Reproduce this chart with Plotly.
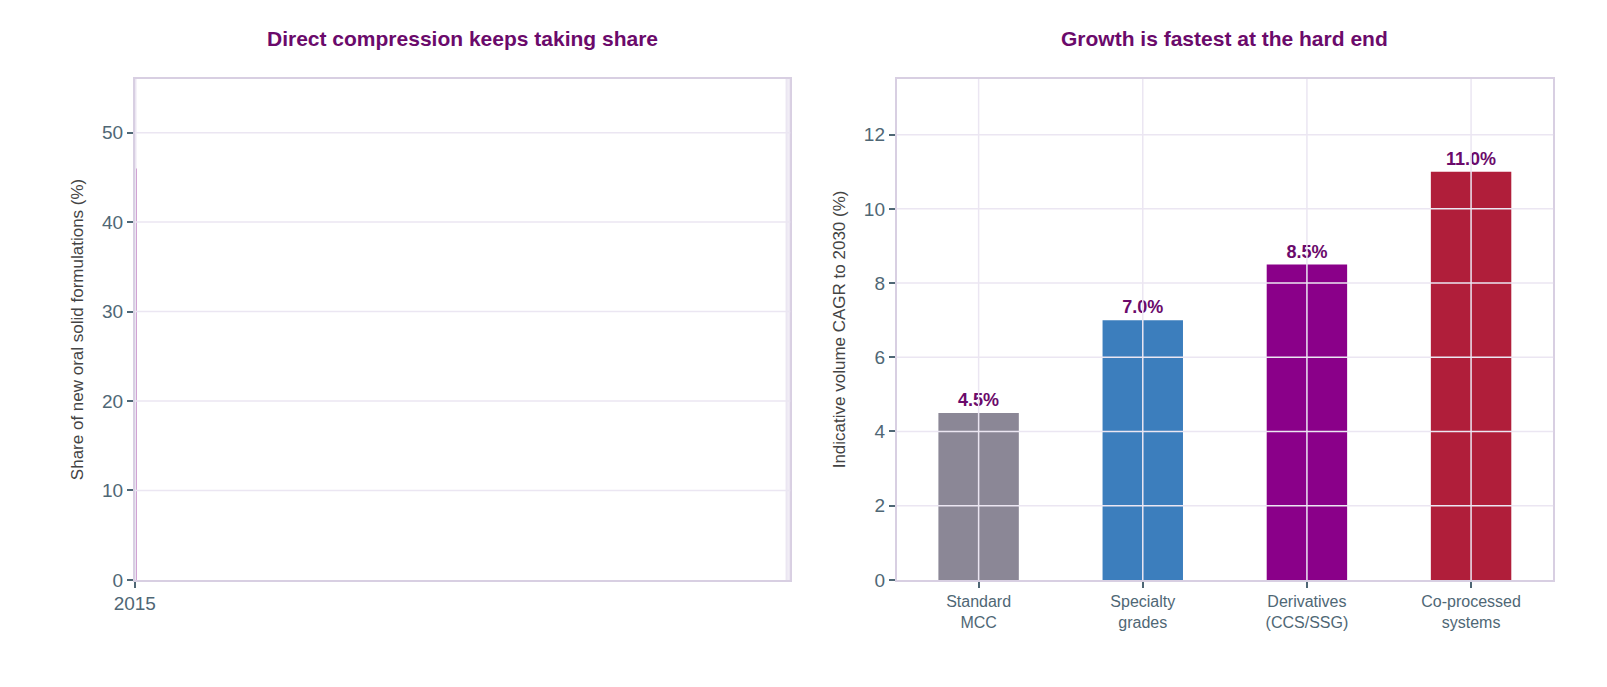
import plotly.graph_objects as go
from plotly.subplots import make_subplots

years = ['2015', '2020', '2025', '2030F']
share = [18, 26, 35, 46]
share_colors = ['#8b8796', '#8b8796', '#3c7ebd', '#8a0089']
share_ticks = [0, 10, 20, 30, 40, 50]

segments = ['Standard<br>MCC', 'Specialty<br>grades', 'Derivatives<br>(CCS/SSG)', 'Co-processed<br>systems']
cagr = [4.5, 7.0, 8.5, 11.0]
cagr_colors = ['#8b8796', '#3c7ebd', '#8a0089', '#b01e3a']
cagr_ticks = [0, 2, 4, 6, 8, 10, 12]

TITLE = '#6b0a6b'
TICK = '#4f6775'
GRID = '#ebe6f2'
FRAME = '#d8cfe2'
FONT = 'Liberation Sans'

fig = make_subplots(rows=1, cols=2)

fig.add_trace(go.Bar(x=years, y=share, marker_color=share_colors, width=0.49, marker_line_width=0,
                     text=[f'{v}%' for v in share], textposition='outside',
                     textfont=dict(color=TITLE, size=18, family=FONT, weight='bold'),
                     cliponaxis=False), row=1, col=1)
fig.add_trace(go.Bar(x=segments, y=cagr, marker_color=cagr_colors, width=0.49, marker_line_width=0,
                     text=[f'{v:.1f}%' for v in cagr], textposition='outside',
                     textfont=dict(color=TITLE, size=18, family=FONT, weight='bold'),
                     cliponaxis=False), row=1, col=2)

# gridlines drawn over the bars, as in the reference
for col, cats, ticks in [(1, years, share_ticks), (2, segments, cagr_ticks)]:
    for t in ticks[1:]:
        fig.add_hline(y=t, line=dict(color=GRID, width=1.5), layer='above', row=1, col=col)
    for c in cats:
        fig.add_vline(x=c, line=dict(color=GRID, width=1.5), layer='above', row=1, col=col)

axis_style = dict(showline=True, mirror=True, linecolor=FRAME, linewidth=1.5,
                  showgrid=False, ticks='outside', ticklen=6, tickcolor=TICK, tickwidth=1.5,
                  zeroline=False)

fig.update_xaxes(axis_style, tickfont=dict(size=19, color=TICK))
fig.update_xaxes(domain=[0.0666, 0.480], row=1, col=1)
fig.update_xaxes(domain=[0.547, 0.961], tickfont=dict(size=16, color=TICK), row=1, col=2)
fig.update_yaxes(axis_style, tickfont=dict(size=19, color=TICK), domain=[0.154, 0.895])
fig.update_yaxes(range=[0, 56], tickvals=share_ticks, title=dict(text='Share of new oral solid formulations (%)',
                 font=dict(size=17, color='#444'), standoff=14), row=1, col=1)
fig.update_yaxes(range=[0, 13.5], tickvals=cagr_ticks, title=dict(text='Indicative volume CAGR to 2030 (%)',
                 font=dict(size=17, color='#444'), standoff=14), row=1, col=2)

fig.update_layout(
    width=1607, height=687, margin=dict(l=0, r=0, t=0, b=0),
    paper_bgcolor='white', plot_bgcolor='white', showlegend=False,
    font=dict(family=FONT),
    annotations=[
        dict(text='<b>Direct compression keeps taking share</b>', x=(0.0666 + 0.480) / 2, y=0.935,
             xref='paper', yref='paper', showarrow=False, xanchor='center', yanchor='bottom',
             font=dict(size=21, color=TITLE)),
        dict(text='<b>Growth is fastest at the hard end</b>', x=(0.547 + 0.961) / 2, y=0.935,
             xref='paper', yref='paper', showarrow=False, xanchor='center', yanchor='bottom',
             font=dict(size=21, color=TITLE)),
    ],
)

fig.write_html('out.html')
